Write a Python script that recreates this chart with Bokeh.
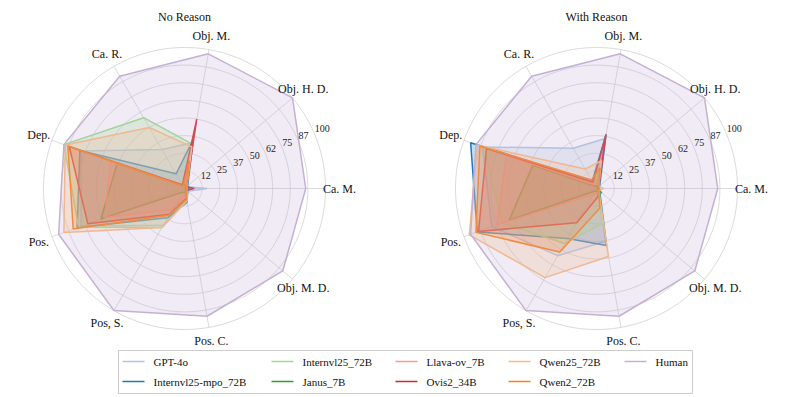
import numpy as np
from bokeh.plotting import figure
from bokeh.models import Range1d
from bokeh.embed import file_html
from bokeh.resources import INLINE
from bokeh.core.properties import value

# ---------------- data ----------------
axis_labels = ["Ca. M.", "Obj. H. D.", "Obj. M.", "Ca. R.", "Dep.", "Pos.", "Pos, S.", "Pos. C.", "Obj. M. D."]
tick_values = [12.5, 25, 37.5, 50, 62.5, 75, 87.5, 100]
tick_labels = ["12", "25", "37", "50", "62", "75", "87", "100"]
chart_titles = ["No Reason", "With Reason"]

models = ["GPT-4o", "Internvl25-mpo_72B", "Internvl25_72B", "Janus_7B", "Llava-ov_7B",
          "Ovis2_34B", "Qwen25_72B", "Qwen2_72B", "Human"]
colors = ["#aec7e8", "#1f77b4", "#98df8a", "#2ca02c", "#ff9896",
          "#d62728", "#ffbb78", "#ff7f0e", "#c5b0d5"]

# No Reason
gpt4o_nr    = [16, 2, 33, 32, 78, 78, 30, 8, 3]
mpo_nr      = [3, 3, 35, 12, 79, 81, 24, 10, 3]
internvl_nr = [2, 2, 32, 58, 91, 80, 32, 9, 3]
janus_nr    = [2, 1, 3, 3, 51, 63, 3, 3, 1]
llava_nr    = [2, 2, 5, 3, 56, 60, 17, 4, 2]
ovis_nr     = [7, 2, 50, 3, 87, 73, 21, 7, 2]
qwen25_nr   = [2, 2, 30, 50, 90, 91, 32, 9, 2]
qwen2_nr    = [2, 2, 20, 2, 88, 84, 22, 8, 2]
human_nr    = [86, 100, 97, 92, 91, 95, 100, 92, 91]

# With Reason
gpt4o_wr    = [2, 2, 36, 33, 86, 79, 55, 38, 2]
mpo_wr      = [2, 3, 39, 6, 95, 90, 41, 41, 3]
internvl_wr = [1, 2, 12, 3, 85, 71, 45, 25, 2]
janus_wr    = [1, 1, 2, 2, 48, 66, 2, 2, 5]
llava_wr    = [1, 2, 5, 3, 68, 75, 5, 3, 2]
ovis_wr     = [1, 2, 39, 5, 83, 89, 28, 6, 2]
qwen25_wr   = [5, 2, 20, 16, 90, 96, 73, 49, 2]
qwen2_wr    = [2, 2, 15, 7, 88, 91, 52, 14, 2]
human_wr    = [86, 100, 97, 92, 91, 95, 100, 92, 91]

series_nr = [gpt4o_nr, mpo_nr, internvl_nr, janus_nr, llava_nr, ovis_nr, qwen25_nr, qwen2_nr, human_nr]
series_wr = [gpt4o_wr, mpo_wr, internvl_wr, janus_wr, llava_wr, ovis_wr, qwen25_wr, qwen2_wr, human_wr]

# ---------------- layout ----------------
W, H = 793, 397
FONT = value("Liberation Serif")


def P(px, py):
    """reference pixel -> data coordinates (1 data unit == 1 px)"""
    return px, H - py


SCALE = 1.41  # px per value unit
centers = [P(184, 188), P(596, 188)]
n = len(axis_labels)
angles = np.deg2rad(np.arange(n) * 360.0 / n)

p = figure(width=W, height=H, output_backend="svg", toolbar_location=None,
           x_range=Range1d(0, W), y_range=Range1d(0, H), min_border=0)
p.axis.visible = False
p.grid.visible = False
p.outline_line_color = None
p.background_fill_color = "white"

grid_col = "#d0d0d0"
for ci, (cx, cy) in enumerate(centers):
    th = np.linspace(0, 2 * np.pi, 361)
    for tv in tick_values:
        r = tv * SCALE
        p.line(cx + r * np.cos(th), cy + r * np.sin(th), line_color=grid_col, line_width=0.8)
    R = 100 * SCALE
    p.segment(x0=[cx] * n, y0=[cy] * n, x1=list(cx + R * np.cos(angles)),
              y1=list(cy + R * np.sin(angles)), line_color=grid_col, line_width=0.8)

    data = series_nr if ci == 0 else series_wr
    for vals, col in zip(data, colors):
        v = np.array(vals, dtype=float) * SCALE
        xs = list(cx + v * np.cos(angles))
        ys = list(cy + v * np.sin(angles))
        p.patch(xs + [xs[0]], ys + [ys[0]], fill_color=col, fill_alpha=0.25,
                line_color=col, line_width=1.5)

    LR = 155
    p.text(x=list(cx + LR * np.cos(angles)), y=list(cy + LR * np.sin(angles)), text=axis_labels,
           text_font=FONT, text_font_size="12px", text_align="center",
           text_baseline="middle", text_color="#111111")

    a = np.deg2rad(22.5)
    rr = np.array(tick_values) * SCALE
    p.text(x=list(cx + rr * np.cos(a)), y=list(cy + rr * np.sin(a) + 6), text=tick_labels,
           text_font=FONT, text_font_size="10px", text_align="left",
           text_baseline="middle", text_color="#222222")

    tx, ty = cx, P(0, 16)[1]
    p.text(x=[tx], y=[ty], text=[chart_titles[ci]], text_font=FONT, text_font_size="12px",
           text_align="center", text_baseline="middle", text_color="#111111")

# ---------------- legend (manual, matplotlib-like) ----------------
bx0, by0 = P(118, 350)
bx1, by1 = P(692, 393)
p.quad(left=[bx0], right=[bx1], top=[by0], bottom=[by1], fill_color="white",
       fill_alpha=0.8, line_color="#cccccc", line_width=1)

col_x = [122, 271, 395, 508, 624]
row_y = [361, 381]
for i, (name, col) in enumerate(zip(models, colors)):
    c, r = i // 2, i % 2
    lx, ly = P(col_x[c], row_y[r])
    p.line([lx, lx + 22], [ly, ly], line_color=col, line_width=1.5)
    p.text(x=[lx + 31], y=[ly], text=[name], text_font=FONT, text_font_size="11px",
           text_align="left", text_baseline="middle", text_color="#111111")

open("out.html", "w").write(file_html(p, INLINE))
